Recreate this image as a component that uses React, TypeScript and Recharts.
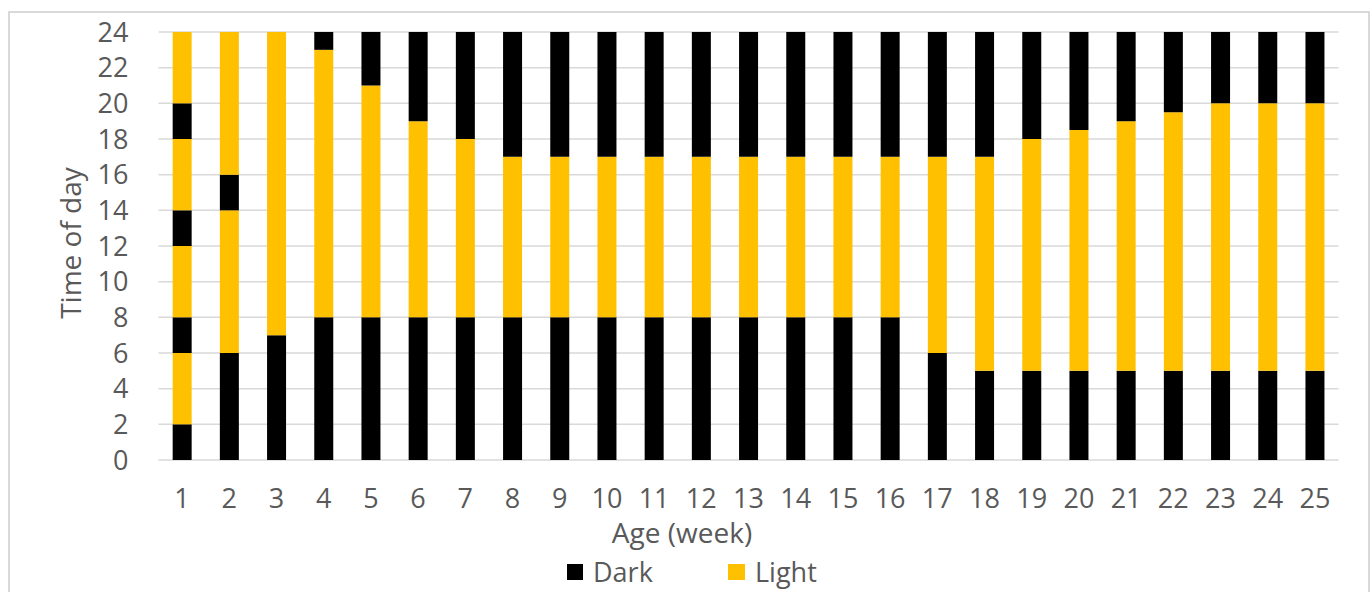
import { Bar, BarChart, CartesianGrid, XAxis, YAxis } from "recharts";

// weeks 1..25, each bar is a stack of alternating dark / light periods (hours)
const weeks = [
    "1", "2", "3", "4", "5", "6", "7", "8", "9", "10", "11", "12", "13",
    "14", "15", "16", "17", "18", "19", "20", "21", "22", "23", "24", "25",
];
const dark1 = [2, 6, 7, 8, 8, 8, 8, 8, 8, 8, 8, 8, 8, 8, 8, 8, 6, 5, 5, 5, 5, 5, 5, 5, 5];
const light1 = [4, 8, 17, 15, 13, 11, 10, 9, 9, 9, 9, 9, 9, 9, 9, 9, 11, 12, 13, 13.5, 14, 14.5, 15, 15, 15];
const dark2 = [2, 2, 0, 1, 3, 5, 6, 7, 7, 7, 7, 7, 7, 7, 7, 7, 7, 7, 6, 5.5, 5, 4.5, 4, 4, 4];
const light2 = [4, 8, 0, 0, 0, 0, 0, 0, 0, 0, 0, 0, 0, 0, 0, 0, 0, 0, 0, 0, 0, 0, 0, 0, 0];
const dark3 = [2, 0, 0, 0, 0, 0, 0, 0, 0, 0, 0, 0, 0, 0, 0, 0, 0, 0, 0, 0, 0, 0, 0, 0, 0];
const light3 = [4, 0, 0, 0, 0, 0, 0, 0, 0, 0, 0, 0, 0, 0, 0, 0, 0, 0, 0, 0, 0, 0, 0, 0, 0];
const dark4 = [2, 0, 0, 0, 0, 0, 0, 0, 0, 0, 0, 0, 0, 0, 0, 0, 0, 0, 0, 0, 0, 0, 0, 0, 0];
const light4 = [4, 0, 0, 0, 0, 0, 0, 0, 0, 0, 0, 0, 0, 0, 0, 0, 0, 0, 0, 0, 0, 0, 0, 0, 0];
const hourTicks = [0, 2, 4, 6, 8, 10, 12, 14, 16, 18, 20, 22, 24];

const DARK = "#000000";
const LIGHT = "#FFC000";
const TEXT = "#595959";
const FONT = "'Open Sans', sans-serif";

const segments = [
    { key: "dark1", values: dark1, color: DARK },
    { key: "light1", values: light1, color: LIGHT },
    { key: "dark2", values: dark2, color: DARK },
    { key: "light2", values: light2, color: LIGHT },
    { key: "dark3", values: dark3, color: DARK },
    { key: "light3", values: light3, color: LIGHT },
    { key: "dark4", values: dark4, color: DARK },
    { key: "light4", values: light4, color: LIGHT },
];

const data = weeks.map((week, i) => {
    const row: Record<string, string | number> = { week };
    segments.forEach((s) => {
        row[s.key] = s.values[i];
    });
    return row;
});

export default function App() {
    return (
        <div
            style={{
                position: "absolute",
                left: 0,
                top: 0,
                width: 1372,
                height: 592,
                overflow: "hidden",
                background: "#FFFFFF",
                fontFamily: FONT,
            }}>
            <div
                style={{
                    position: "absolute",
                    left: 8,
                    top: 11,
                    width: 1358,
                    height: 620,
                    border: "2px solid #D9D9D9",
                }}
            />
            <div style={{ position: "absolute", left: 0, top: 0 }}>
                <BarChart
                    width={1372}
                    height={592}
                    data={data}
                    margin={{ top: 32, right: 33.5, left: 0, bottom: 82 }}
                    barCategoryGap="30%">
                    <CartesianGrid vertical={false} stroke="#D9D9D9" strokeWidth={1.5} />
                    <XAxis
                        dataKey="week"
                        height={50}
                        axisLine={false}
                        tickLine={false}
                        tickSize={0}
                        tickMargin={29}
                        tick={{ fill: TEXT, fontSize: 27, fontFamily: FONT }}
                    />
                    <YAxis
                        width={158.5}
                        domain={[0, 24]}
                        ticks={hourTicks}
                        interval={0}
                        axisLine={false}
                        tickLine={false}
                        tickSize={0}
                        tickMargin={30}
                        tick={{ fill: TEXT, fontSize: 27, fontFamily: FONT }}
                    />
                    {segments.map((s) => (
                        <Bar
                            key={s.key}
                            dataKey={s.key}
                            stackId="day"
                            fill={s.color}
                            isAnimationActive={false}
                        />
                    ))}
                </BarChart>
            </div>
            <div
                style={{
                    position: "absolute",
                    left: 70,
                    top: 243,
                    transform: "translate(-50%, -50%) rotate(-90deg)",
                    whiteSpace: "nowrap",
                    fontSize: 28,
                    color: TEXT,
                }}>
                Time of day
            </div>
            <div
                style={{
                    position: "absolute",
                    left: 682,
                    top: 532,
                    transform: "translate(-50%, -50%)",
                    whiteSpace: "nowrap",
                    fontSize: 28,
                    color: TEXT,
                }}>
                Age (week)
            </div>
            <div
                style={{
                    position: "absolute",
                    left: 567,
                    top: 553,
                    display: "flex",
                    alignItems: "center",
                    fontSize: 27,
                    color: TEXT,
                    whiteSpace: "nowrap",
                }}>
                <span style={{ width: 16, height: 16, background: DARK, marginRight: 10 }} />
                <span style={{ width: 135 }}>Dark</span>
                <span style={{ width: 17, height: 16, background: LIGHT, marginRight: 10 }} />
                <span>Light</span>
            </div>
        </div>
    );
}
